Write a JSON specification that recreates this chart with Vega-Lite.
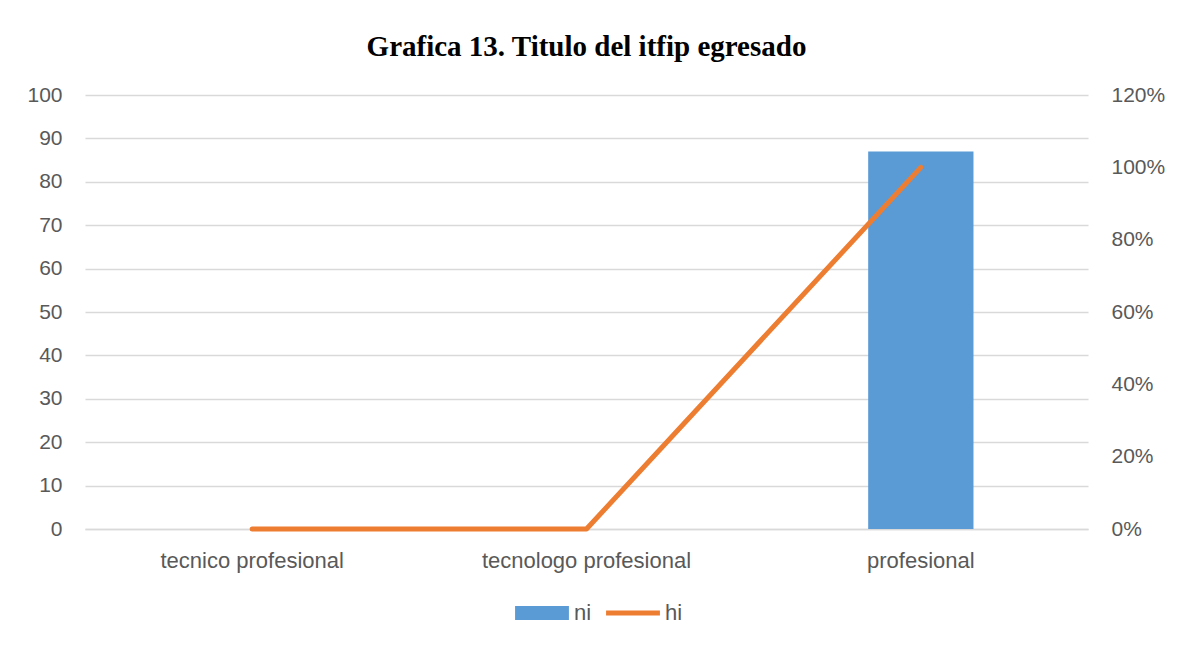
{
  "$schema": "https://vega.github.io/schema/vega-lite/v6.json",
  "width": 1003,
  "height": 434,
  "autosize": {"type": "none"},
  "padding": {"left": 85, "top": 95, "right": 94, "bottom": 121},
  "background": "white",
  "title": {
    "text": "Grafica 13. Titulo del itfip egresado",
    "font": "Liberation Serif",
    "fontSize": 29,
    "fontWeight": "bold",
    "color": "#000000",
    "anchor": "middle",
    "offset": 22
  },
  "data": {
    "values": [
      {"categoria": "tecnico profesional", "ni": 0, "hi": 0},
      {"categoria": "tecnologo profesional", "ni": 0, "hi": 0},
      {"categoria": "profesional", "ni": 87, "hi": 1}
    ]
  },
  "encoding": {
    "x": {
      "field": "categoria",
      "type": "nominal",
      "sort": null,
      "scale": {"paddingInner": 0.685, "paddingOuter": 0.3425},
      "axis": {
        "title": null,
        "labelAngle": 0,
        "labelFont": "Liberation Sans",
        "labelFontSize": 22,
        "labelLimit": 400,
        "labelColor": "#595959",
        "labelPadding": 21,
        "ticks": false,
        "domain": true,
        "domainColor": "#D9D9D9",
        "domainWidth": 1.5
      }
    }
  },
  "layer": [
    {
      "mark": {"type": "bar", "color": "#5B9BD5"},
      "encoding": {
        "y": {
          "field": "ni",
          "type": "quantitative",
          "scale": {"domain": [0, 100], "nice": false},
          "axis": {
            "title": null,
            "values": [0, 10, 20, 30, 40, 50, 60, 70, 80, 90, 100],
            "labelFont": "Liberation Sans",
            "labelFontSize": 21,
            "labelColor": "#595959",
            "labelPadding": 23,
            "ticks": false,
            "domain": false,
            "grid": true,
            "gridColor": "#D9D9D9",
            "gridWidth": 1.5
          }
        },
        "color": {
          "datum": "ni",
          "type": "nominal",
          "scale": {"domain": ["ni", "hi"], "range": ["#5B9BD5", "#ED7D31"]},
          "legend": {
            "title": null,
            "orient": "none",
            "legendX": 430,
            "legendY": 491,
            "direction": "horizontal",
            "labelFont": "Liberation Sans",
            "labelFontSize": 22,
            "labelColor": "#595959",
            "symbolType": "M-1,-0.26H1V0.26H-1Z",
            "symbolSize": 2900,
            "symbolStrokeWidth": 0,
            "labelOffset": 5,
            "columnPadding": 14,
            "encode": {
              "symbols": {
                "update": {
                  "shape": {"signal": "datum.value === 'ni' ? 'M-1,-0.26H1V0.26H-1Z' : 'M-1,-0.09H1V0.09H-1Z'"},
                  "fill": {"signal": "datum.value === 'ni' ? '#5B9BD5' : '#ED7D31'"},
                  "stroke": {"signal": "datum.value === 'ni' ? '#5B9BD5' : '#ED7D31'"},
                  "strokeWidth": {"value": 0},
                  "opacity": {"value": 1},
                  "fillOpacity": {"value": 1}
                }
              }
            }
          }
        }
      }
    },
    {
      "mark": {"type": "line", "strokeWidth": 5, "strokeCap": "round", "strokeJoin": "round"},
      "encoding": {
        "y": {
          "field": "hi",
          "type": "quantitative",
          "scale": {"domain": [0, 1.2], "nice": false},
          "axis": {
            "title": null,
            "orient": "right",
            "values": [0, 0.2, 0.4, 0.6, 0.8, 1.0, 1.2],
            "format": ".0%",
            "labelFont": "Liberation Sans",
            "labelFontSize": 21,
            "labelColor": "#595959",
            "labelPadding": 23,
            "ticks": false,
            "domain": false,
            "grid": false
          }
        },
        "color": {"datum": "hi", "type": "nominal"}
      }
    }
  ],
  "resolve": {"scale": {"y": "independent"}},
  "config": {"view": {"stroke": null}}
}
